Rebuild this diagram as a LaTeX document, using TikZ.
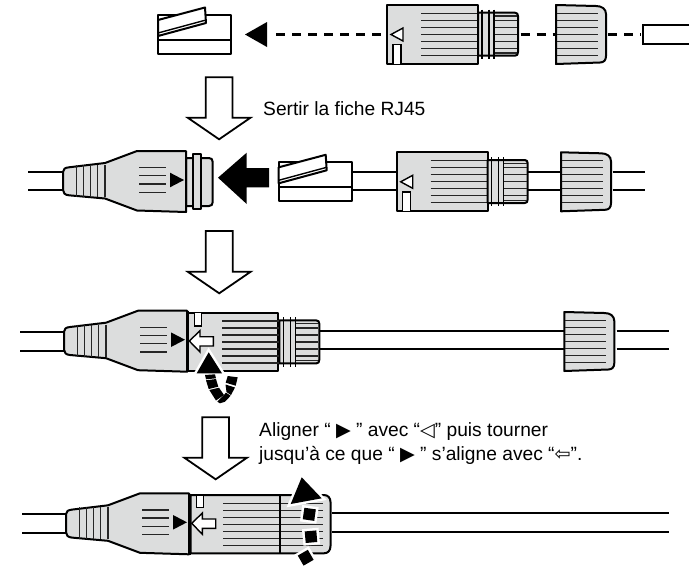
\documentclass[tikz,border=0pt]{standalone}
\usepackage{fontspec}
\setmainfont{Liberation Sans}
\newfontfamily\symf{DejaVu Sans}
\definecolor{bodygray}{HTML}{DCDDDD}
\tikzset{
  x=1pt,y=-1pt,
  ol/.style={draw=black,line width=2pt,line join=round},
  hair/.style={draw=black!85,line width=1.2pt},
  thinl/.style={draw=black,line width=1.4pt,line join=miter},
  cable/.style={draw=black,line width=2pt},
  gfill/.style={fill=bodygray},
  halo/.style={draw=white,fill=white,line width=5pt,line join=miter},
  downarrow/.style={draw=black,line width=1.8pt,fill=white,line join=miter},
  dashline/.style={draw=black,line width=3pt,dash pattern=on 9pt off 7pt},
  label/.style={font=\fontsize{19.2}{24}\selectfont,anchor=base west,inner sep=0pt,align=left}
}
\newcommand{\plugshape}{%
  \draw[ol,fill=white] (158,15) rectangle (231,54);
  \draw[ol] (158,40) -- (231,40);
  \draw[ol,fill=white] (158,20) -- (205,7.5) -- (206,23) -- (158,36) -- cycle;
  \draw[line width=1.4pt] (158,33) -- (206,20);
}
\newcommand{\sevenlines}[2]{%
  \foreach \yy in {13.3,20.3,27.3,34.3,41.3,48.3,55.3} \draw[hair] (#1,\yy) -- (#2,\yy);
}
\newcommand{\bodyshape}{%
  \draw[ol,gfill] (387,5) rectangle (478,64);
  \sevenlines{421}{478}
  \draw[thinl,fill=white] (391,34.5) -- (403,28) -- (403,41) -- cycle;
  \draw[thinl,fill=white] (393,63.5) -- (393,44.5) -- (401,44.5) -- (401,63.5);
}
\newcommand{\knurl}{%
  \draw[ol,gfill] (478,12.7) -- (515,12.7) .. controls (517,12.7) and (518,14) .. (518,16)
     -- (518,52) .. controls (518,54.5) and (517,55.7) .. (515,55.7) -- (478,55.7) -- cycle;
  \foreach \yy in {20.3,27.3,34.3,41.3,48.3} \draw[hair] (494,\yy) -- (517,\yy);
  \draw[hair] (494,16) -- (517,16);
  \draw[hair] (494,53) -- (517,53);
  \draw[line width=1.2pt] (482,9.7) -- (482,59);
  \draw[line width=1.2pt] (489,9.7) -- (489,59);
  \draw[line width=1.2pt] (494,9.7) -- (494,59);
}
\newcommand{\nutshape}{%
  \draw[ol,gfill] (556,5) -- (596,6)
     .. controls (602,6) and (606,9) .. (606,14) -- (606,56)
     .. controls (606,60) and (604,62.5) .. (600,62.5) -- (556,64) -- cycle;
  \foreach \yy in {13.3,20.3,27.3,34.3,41.3,48.3,55.3} \draw[hair] (557,\yy) -- (598,\yy);
}
\newcommand{\bootshape}{%
  \draw[ol,gfill] (186,151) -- (137,151) -- (105,163) -- (69,167.3)
     .. controls (65,167.7) and (63,169) .. (63,172) -- (63,190)
     .. controls (63,193) and (65,195) .. (69,195.3) -- (105,198.5) -- (137,210.5) -- (186,212) -- cycle;
  \foreach \xx in {76.7,83.3,90.7,97.3,105} \draw[hair] (\xx,165) -- (\xx,197);
  \foreach \yy in {167.7,175.7,184,192.3} \draw[hair] (139,\yy) -- (166,\yy);
  \fill (170,172.7) -- (184,180) -- (170,187.3) -- cycle;
}
\newcommand{\hollowarrow}{%
  \draw[thinl,fill=white] (189.3,341) -- (200,330.7) -- (200,336.7) -- (213.3,336.7) -- (213.3,346) -- (200,346) -- (200,352) -- cycle;
}
\newcommand{\downarr}[5]{% xleft xright top wingy tip
  \pgfmathsetmacro{\mx}{(#1+#2)/2}
  \draw[downarrow] (#1,#3) -- (#2,#3) -- (#2,#4) -- ({#2+18},#4) -- (\mx,#5) -- ({#1-18},#4) -- (#1,#4) -- cycle;
}
\newcommand{\haloed}[1]{\draw[halo] #1; \fill #1;}
\begin{document}
\begin{tikzpicture}
\useasboundingbox (0,0) rectangle (694,566);
\fill[white] (0,0) rectangle (694,566);

% ===== Row 1
\plugshape
\fill (245,34.5) -- (267,22) -- (267,47) -- cycle;
\draw[dashline] (276,34.5) -- (385,34.5);
\draw[dashline] (520.7,34.5) -- (556,34.5);
\draw[dashline] (608,34.5) -- (641,34.5);
\bodyshape
\knurl
\nutshape
\draw[cable] (689,24.7) -- (643,24.7) -- (643,43.7) -- (689,43.7);

% arrows
\downarr{205.7}{232.5}{77.3}{117.7}{139.3}
\downarr{205.7}{232.7}{231}{271.7}{293.3}
\downarr{202.3}{229}{417.3}{457.7}{479.3}

\node[label] (t1) at (263,115.5) {Sertir la fiche RJ45};
\node[label] (t2) at (259,436) {Aligner “ {\symf ▶} ” avec “{\symf ◁}” puis tourner};
\node[label] (t3) at (259,460) {jusqu’à ce que “ {\symf ▶} ” s’aligne avec “{\symf ⇦}”.};

% ===== Row 2
\draw[cable] (28,171.7) -- (63,171.7);
\draw[cable] (28,190.3) -- (63,190.3);
\draw[ol,gfill] (186,158) -- (209,158) .. controls (211.5,158) and (212.7,159.5) .. (212.7,162) -- (212.7,202) .. controls (212.7,204.5) and (211.5,206) .. (209,206) -- (186,206) -- cycle;
\draw[ol,gfill] (192.7,154.3) rectangle (200.7,209.3);
\bootshape
\fill (218,177.7) -- (246.7,152.7) -- (246.7,168) -- (269,168) -- (269,187.3) -- (246.7,187.3) -- (246.7,204) -- cycle;
\draw[cable] (352,171.7) -- (396.7,171.7);
\draw[cable] (352,190.3) -- (396.7,190.3);
\draw[cable] (528,171.7) -- (561,171.7);
\draw[cable] (528,190.3) -- (561,190.3);
\draw[cable] (612.7,171.7) -- (645,171.7);
\draw[cable] (612.7,190.3) -- (645,190.3);
\begin{scope}[shift={(120.7,147.3)}]\plugshape\end{scope}
\begin{scope}[shift={(9.7,147.3)}]\bodyshape\knurl\end{scope}
\begin{scope}[shift={(5,147.3)}]\nutshape\end{scope}

% ===== Row 3
\draw[cable] (20,331.7) -- (64,331.7);
\draw[cable] (20,350.7) -- (64,350.7);
\draw[cable] (319,330.7) -- (564.3,330.7);
\draw[cable] (319,349.3) -- (564.3,349.3);
\draw[cable] (616.7,330.7) -- (669,330.7);
\draw[cable] (616.7,349.3) -- (669,349.3);
\begin{scope}[shift={(1,159.7)}]\bootshape\end{scope}
\begin{scope}[shift={(-198.7,307.7)}]\knurl\end{scope}
\draw[ol,gfill] (188.3,312.7) rectangle (278.3,371);
\begin{scope}[shift={(-198.7,307.7)}]\sevenlines{421}{478}\end{scope}
\draw[line width=2.5pt] (187.5,310.5) -- (187.5,372);
\draw[thinl,fill=white] (194.3,312.7) rectangle (201.7,326);
\hollowarrow
\haloed{(208.7,352.3) -- (222,373.3) -- (196.7,373.3) -- cycle}
\fill (205,375) -- (215,374.3) -- (216,378.3) -- (206,379.3) -- cycle;
\fill (206,380.3) -- (216,379) -- (218.3,386.7) -- (208.7,389) -- cycle;
\fill (209.3,390) -- (219,387.7) -- (224,395) -- (216,400.5) -- cycle;
\fill (217.3,401.7) -- (226,392.7) -- (230.7,395.7) -- (225,401.7) -- (220,403.3) -- cycle;
\fill (225.5,384.5) -- (235,387.5) -- (231,395) -- (226.5,392) -- cycle;
\fill (227.7,376) -- (237.7,377.3) -- (235.7,385.7) -- (225.7,382.7) -- cycle;
\begin{scope}[shift={(8.3,307)}]\nutshape\end{scope}

% ===== Row 4
\draw[cable] (22,513.7) -- (66,513.7);
\draw[cable] (22,532.7) -- (66,532.7);
\draw[cable] (332.3,512.7) -- (669,512.7);
\draw[cable] (332.3,531.7) -- (669,531.7);
\begin{scope}[shift={(3,342.3)}]\bootshape\end{scope}
\draw[ol,gfill] (190.7,495) -- (324,495) .. controls (328,495) and (330.5,498) .. (330.5,502) -- (330.5,546) .. controls (330.5,550.5) and (328,553.3) .. (324,553.3) -- (190.7,553.3) -- cycle;
\foreach \yy in {503.3,510.3,517.3,524.3,531.3,538.3,545.3} \draw[hair] (223.3,\yy) -- (322.7,\yy);
\draw[line width=1.8pt] (280,495) -- (280,553.3);
\draw[line width=2.5pt] (189.5,493.5) -- (189.5,554.5);
\draw[thinl,fill=white] (196.7,495) rectangle (203.3,507.7);
\begin{scope}[shift={(2.4,182.3)}]\hollowarrow\end{scope}
\haloed{(301.7,477.3) -- (321.7,498.3) -- (290.7,504) -- cycle}
\begin{scope}[rotate around={-8:(309.3,514.3)}]\haloed{(303.5,508.5) rectangle (315.1,520.1)}\end{scope}
\begin{scope}[rotate around={5:(311,536.7)}]\haloed{(305.2,530.9) rectangle (316.8,542.5)}\end{scope}
\begin{scope}[rotate around={30:(305.7,557.7)}]\haloed{(299.9,551.9) rectangle (311.5,563.5)}\end{scope}
\end{tikzpicture}
\end{document}
